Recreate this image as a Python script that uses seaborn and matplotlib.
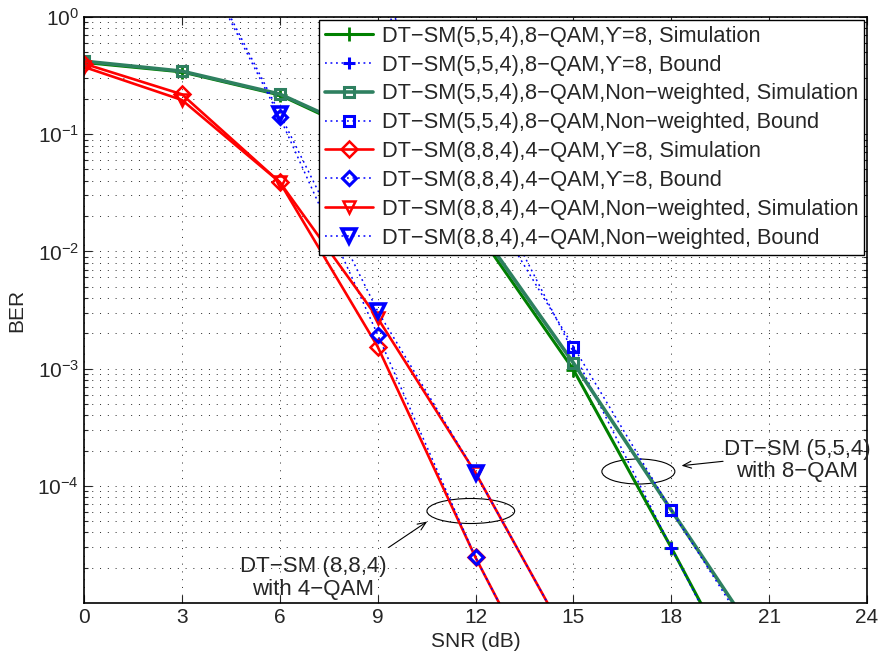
import numpy as np
import pandas as pd
import matplotlib
matplotlib.use("Agg")
import matplotlib.pyplot as plt
import seaborn as sns
from matplotlib.patches import Ellipse
from matplotlib.ticker import LogLocator, NullLocator, NullFormatter

# ---------------- data ----------------
snr_554 = [0, 3, 6, 9, 12, 15, 18, 21]
sim_554_w = [0.41, 0.34, 0.216, 0.088, 0.0155, 9.8e-4, 2.97e-5, 8e-7]
bound_554_w = [200, 40, 8, 1.8, 0.06, 1.38e-3, 2.96e-5, 7e-7]
sim_554_nw = [0.42, 0.345, 0.22, 0.092, 0.017, 1.12e-3, 6.2e-5, 3.5e-6]
bound_554_nw = [200, 40, 8, 1.6, 0.037, 1.54e-3, 6.2e-5, 3e-6]

snr_884 = [0, 3, 6, 9, 12, 15]
sim_884_w = [0.40, 0.219, 0.039, 1.54e-3, 2.45e-5, 6e-7]
bound_884_w = [60, 6.0, 0.14, 1.95e-3, 2.45e-5, 6e-7]
sim_884_nw = [0.375, 0.196, 0.039, 2.7e-3, 1.29e-4, 4e-6]
bound_884_nw = [60, 6.5, 0.15, 3.1e-3, 1.29e-4, 4e-6]

labels = [
    "DT−SM(5,5,4),8−QAM,ϒ=8, Simulation",
    "DT−SM(5,5,4),8−QAM,ϒ=8, Bound",
    "DT−SM(5,5,4),8−QAM,Non−weighted, Simulation",
    "DT−SM(5,5,4),8−QAM,Non−weighted, Bound",
    "DT−SM(8,8,4),4−QAM,ϒ=8, Simulation",
    "DT−SM(8,8,4),4−QAM,ϒ=8, Bound",
    "DT−SM(8,8,4),4−QAM,Non−weighted, Simulation",
    "DT−SM(8,8,4),4−QAM,Non−weighted, Bound",
]
xticks = [0, 3, 6, 9, 12, 15, 18, 21, 24]
yticks = [1e0, 1e-1, 1e-2, 1e-3, 1e-4]
ytick_labels = ["10$^{0}$", "10$^{-1}$", "10$^{-2}$", "10$^{-3}$", "10$^{-4}$"]

# ---------------- style ----------------
sns.set_style("ticks")
plt.rcParams["font.family"] = ["Liberation Sans", "DejaVu Sans"]
plt.rcParams["mathtext.fontset"] = "custom"
plt.rcParams["mathtext.rm"] = "Liberation Sans"
plt.rcParams["mathtext.it"] = "Liberation Sans:italic"
plt.rcParams["mathtext.bf"] = "Liberation Sans:bold"

fig = plt.figure(figsize=(8.82, 6.6), dpi=100)
ax = fig.add_axes([84 / 882, 57 / 660, 783 / 882, 586 / 660])
ax.set_yscale("log")

dot = (0, (1.2, 2.4))
green = "#008000"
teal = "#2E8060"
series = [
    (snr_554, sim_554_w, dict(color=green, lw=2.2, linestyle="-", marker="+", ms=10, mew=2.0)),
    (snr_554, bound_554_w, dict(color="#0000FF", lw=1.1, linestyle=dot, marker="+", ms=9, mew=2.2)),
    (snr_554, sim_554_nw, dict(color=teal, lw=2.6, linestyle="-", marker="s", ms=7, mew=2.2, mfc="none")),
    (snr_554, bound_554_nw, dict(color="#0000FF", lw=1.1, linestyle=dot, marker="s", ms=7, mew=2.2, mfc="none")),
    (snr_884, sim_884_w, dict(color="#FF0000", lw=1.9, linestyle="-", marker="D", ms=8, mew=1.8, mfc="none")),
    (snr_884, bound_884_w, dict(color="#0000FF", lw=1.1, linestyle=dot, marker="D", ms=7, mew=2.2, mfc="none")),
    (snr_884, sim_884_nw, dict(color="#FF0000", lw=1.9, linestyle="-", marker="v", ms=9, mew=1.8, mfc="none")),
    (snr_884, bound_884_nw, dict(color="#0000FF", lw=1.1, linestyle=dot, marker="v", ms=10, mew=2.6, mfc="none")),
]
for (xs, ys, kw), lab in zip(series, labels):
    df = pd.DataFrame({"SNR": xs, "BER": ys})
    color = kw.pop("color")
    sns.lineplot(data=df, x="SNR", y="BER", ax=ax, color=color, label=lab,
                 markeredgecolor=color, **kw)

ax.set_xlim(0, 24)
ax.set_ylim(1e-5, 1e0)
ax.set_xticks(xticks)
ax.set_xticklabels([str(t) for t in xticks])
ax.xaxis.set_minor_locator(NullLocator())
ax.set_yticks(yticks)
ax.set_yticklabels(ytick_labels)
ax.yaxis.set_minor_locator(LogLocator(base=10, subs=np.arange(2, 10), numticks=20))
ax.yaxis.set_minor_formatter(NullFormatter())

ax.tick_params(which="both", direction="in", top=True, right=True, labelsize=15, width=0.8)
ax.tick_params(which="major", length=6)
ax.tick_params(which="minor", length=3)
for s in ax.spines.values():
    s.set_linewidth(1.2)
    s.set_color("black")

gstyle = dict(linestyle=(0, (1, 7)), color="0.15", lw=0.7)
ax.grid(True, which="major", **gstyle)
ax.grid(True, which="minor", axis="y", **gstyle)

ax.set_xlabel("SNR (dB)", fontsize=15, labelpad=4)
ax.set_ylabel("BER", fontsize=15, labelpad=8)

leg = ax.legend(loc="upper right", fontsize=15.7, frameon=True, fancybox=False,
                framealpha=1, edgecolor="black", borderaxespad=0.12,
                handlelength=2.2, handletextpad=0.4, labelspacing=0.36,
                borderpad=0.28, numpoints=1)
leg.get_frame().set_linewidth(1.0)

# annotations
ax.add_patch(Ellipse((0.494, 0.157), 0.112, 0.0427, transform=ax.transAxes,
                     fill=False, ec="black", lw=0.8))
ax.add_patch(Ellipse((0.708, 0.2244), 0.0932, 0.0427, transform=ax.transAxes,
                     fill=False, ec="black", lw=0.8))
ax.annotate("", xy=(0.4412, 0.1416), xytext=(0.3862, 0.0922),
            xycoords="axes fraction", textcoords="axes fraction",
            arrowprops=dict(arrowstyle="->,head_length=0.6,head_width=0.25", lw=0.8, color="black"))
ax.annotate("", xy=(0.7596, 0.2338), xytext=(0.8197, 0.2423),
            xycoords="axes fraction", textcoords="axes fraction",
            arrowprops=dict(arrowstyle="->,head_length=0.6,head_width=0.25", lw=0.8, color="black"))
ax.text(0.2928, 0.043, "DT−SM (8,8,4)\nwith 4−QAM", transform=ax.transAxes,
        ha="center", va="center", multialignment="center", fontsize=16, linespacing=1.1)
ax.text(0.9105, 0.243, "DT−SM (5,5,4)\nwith 8−QAM", transform=ax.transAxes,
        ha="center", va="center", multialignment="center", fontsize=16, linespacing=1.1)

fig.savefig("out.png", dpi=100)
